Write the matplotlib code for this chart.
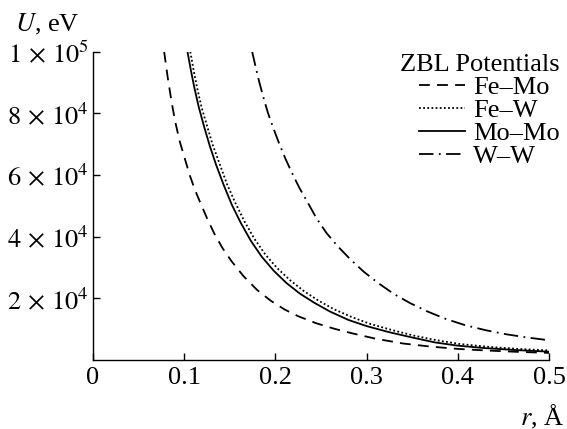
import matplotlib
matplotlib.use("Agg")
import matplotlib.pyplot as plt
from matplotlib.ticker import FixedLocator, FixedFormatter

plt.rcParams['font.family'] = ['Liberation Serif', 'DejaVu Serif']
plt.rcParams['mathtext.fontset'] = 'stix'

# Data (r in Angstrom, U in eV)
r_femo = [0.078, 0.082, 0.086, 0.090, 0.095, 0.100, 0.106, 0.112, 0.118, 0.125, 0.133, 0.142, 0.152,
          0.165, 0.180, 0.195, 0.210, 0.225, 0.245, 0.265, 0.285, 0.310, 0.340, 0.370, 0.400, 0.430,
          0.465, 0.500]
u_femo = [100000, 91500, 84000, 77500, 71000, 66000, 60000, 55000, 50800, 46000, 41000, 36300, 32000,
          27200, 22700, 19200, 16400, 14200, 11900, 10100, 8600, 6900, 5350, 4350, 3600, 3100,
          2650, 2300]

r_few = [0.1067, 0.110, 0.114, 0.119, 0.125, 0.131, 0.139, 0.147, 0.156, 0.166, 0.177, 0.189, 0.202,
         0.216, 0.231, 0.247, 0.264, 0.284, 0.304, 0.328, 0.352, 0.377, 0.402, 0.432, 0.466, 0.500]
u_few = [100000, 94500, 88500, 82000, 76000, 70000, 63500, 57000, 51000, 45000, 39300, 34200, 29800,
         25900, 22400, 19300, 16500, 13900, 11700, 9700, 7900, 6400, 5200, 4300, 3600, 3100]

r_momo = [0.1036, 0.107, 0.111, 0.116, 0.122, 0.128, 0.135, 0.143, 0.152, 0.162, 0.173, 0.185, 0.198,
          0.212, 0.227, 0.243, 0.260, 0.280, 0.300, 0.325, 0.350, 0.375, 0.400, 0.430, 0.465, 0.500]
u_momo = [100000, 94500, 88500, 82000, 75500, 69500, 63300, 57000, 50500, 44500, 38700, 33500, 29000,
          25000, 21500, 18500, 15700, 13000, 11000, 9000, 7300, 5700, 4650, 3850, 3200, 2700]

r_ww = [0.1745, 0.178, 0.182, 0.187, 0.192, 0.198, 0.204, 0.211, 0.218, 0.226, 0.235, 0.245, 0.256,
        0.268, 0.282, 0.297, 0.313, 0.330, 0.348, 0.367, 0.387, 0.408, 0.430, 0.453, 0.476, 0.500]
u_ww = [100000, 95500, 90500, 85000, 80000, 75000, 70300, 65300, 60800, 56000, 51300, 46000, 41200,
        37000, 32700, 28600, 24900, 21400, 18400, 15700, 13300, 11300, 9700, 8350, 7300, 6400]

x_ticks = [0, 0.1, 0.2, 0.3, 0.4, 0.5]
x_ticklabels = ['0', '0.1', '0.2', '0.3', '0.4', '0.5']
y_ticks = [20000, 40000, 60000, 80000, 100000]
y_ticklabels = [r'$2\,\times\,10^4$', r'$4\,\times\,10^4$', r'$6\,\times\,10^4$',
                r'$8\,\times\,10^4$', r'$1\,\times\,10^5$']

labels = ['Fe–Mo', 'Fe–W', 'Mo–Mo', 'W–W']

fs = 19

fig = plt.figure(figsize=(5.67, 4.29), dpi=100)
ax = fig.add_axes([93/567, 1-360/429, (549-93)/567, (360-51.7)/429])

lw = 1.3
ax.plot(r_femo, u_femo, color='black', lw=lw, linestyle=(0, (6, 4)), label=labels[0])
ax.plot(r_few, u_few, color='black', lw=lw, linestyle=(0, (1, 1.3)), label=labels[1])
ax.plot(r_momo, u_momo, color='black', lw=lw, linestyle='-', label=labels[2])
ax.plot(r_ww, u_ww, color='black', lw=lw, linestyle=(0, (8, 3, 1, 3)), label=labels[3])

ax.set_xlim(0, 0.5)
ax.set_ylim(0, 100000)
ax.spines['top'].set_visible(False)
ax.spines['right'].set_visible(False)
for s in ['left', 'bottom']:
    ax.spines[s].set_linewidth(1.0)
ax.xaxis.set_major_locator(FixedLocator(x_ticks))
ax.xaxis.set_major_formatter(FixedFormatter(x_ticklabels))
ax.yaxis.set_major_locator(FixedLocator(y_ticks))
ax.yaxis.set_major_formatter(FixedFormatter(y_ticklabels))
ax.tick_params(direction='in', length=5, width=1.0, labelsize=fs, colors='black')
ax.tick_params(axis='x', pad=5)
ax.tick_params(axis='y', pad=3)

fig.text(15/567, 1-31/429, r'$U$, eV', fontsize=fs, ha='left', va='baseline')
fig.text(564/567, 4/429, r'$r$, Å', fontsize=fs, ha='right', va='baseline')

leg = ax.legend(loc='upper right', bbox_to_anchor=(560/567, 1-54/429),
                bbox_transform=fig.transFigure, frameon=False,
                title='ZBL Potentials', fontsize=fs, title_fontsize=fs,
                alignment='right', borderpad=0, borderaxespad=0,
                handlelength=1.75, handletextpad=0.3, labelspacing=-0.02)
for line in leg.get_lines():
    line.set_linewidth(1.3)

fig.savefig('out.png', dpi=100)
